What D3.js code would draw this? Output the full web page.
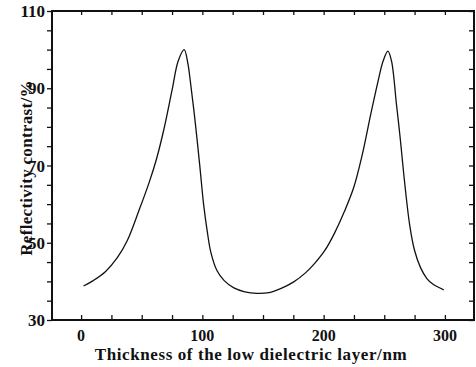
<!DOCTYPE html>
<html>
<head>
<meta charset="utf-8">
<script src="https://cdn.jsdelivr.net/npm/d3@7"></script>
<style>
  body { margin: 0; background: #fff; }
  svg { display: block; }
  .tickText { font-family: "Liberation Serif", serif; font-weight: bold; fill: #111; }
  .aText { font-family: "Liberation Serif", serif; font-weight: bold; font-size: 17px; fill: #111; }
</style>
</head>
<body>
<div id="chart"></div>
<script>
var svgWidth = 476;
var svgHeight = 367;

var margin = { top: 11, right: 2, bottom: 47, left: 52 };
var width = svgWidth - margin.left - margin.right;
var height = svgHeight - margin.top - margin.bottom;

// thickness (nm) and reflectivity contrast (%)
var thickness = [2, 10, 20, 30, 38, 48, 56, 62, 68, 75, 80, 85, 88, 90, 94, 98, 101, 104, 107, 112, 118,
                 126, 135, 145, 155, 165, 175, 185, 193, 201, 209, 217, 225, 232, 239, 245, 249, 253,
                 256, 260, 263, 266, 271, 275, 280, 285, 290, 299];
var contrast = [38.8, 40.2, 42.5, 46.2, 50.5, 58.6, 65.5, 71.5, 79, 89.5, 97, 100, 96.5, 92, 81.5, 69.5, 60, 53, 47.5, 42.8, 40.2,
                38.3, 37.3, 36.9, 37.1, 38.2, 39.8, 42.2, 44.8, 48, 52.5, 58, 64.5, 73, 83.5, 92, 97, 99.6,
                97, 86, 77.5, 68, 54.5, 48, 43.5, 40.8, 39.3, 37.8];

var xTickValues = [0, 100, 200, 300];
var yTickValues = [30, 50, 70, 90, 110];

var data = thickness.map(function(t, i) { return { t: t, v: contrast[i] }; });

var svg = d3.select("#chart")
  .append("svg")
  .attr("width", svgWidth)
  .attr("height", svgHeight);

var chartGroup = svg.append("g")
  .attr("transform", `translate(${margin.left}, ${margin.top})`);

var xScale = d3.scaleLinear().domain([-24, 324]).range([0, width]);
var yScale = d3.scaleLinear().domain([30, 110]).range([height, 0]);

var xMinor = d3.range(0, 325, 25);
var yMinor = d3.range(30, 111, 5);

// bottom axis: ticks inward
chartGroup.append("g")
  .attr("transform", `translate(0, ${height})`)
  .call(d3.axisBottom(xScale).tickValues(xMinor).tickSize(-5).tickFormat(""))
  .call(g => g.select(".domain").remove());

// top axis
chartGroup.append("g")
  .call(d3.axisTop(xScale).tickValues(xMinor).tickSize(-4).tickFormat(""))
  .call(g => g.select(".domain").remove());

// left axis: ticks outward
chartGroup.append("g")
  .call(d3.axisLeft(yScale).tickValues(yMinor).tickSize(5).tickFormat(""))
  .call(g => g.select(".domain").remove());

// right axis: ticks inward
chartGroup.append("g")
  .attr("transform", `translate(${width}, 0)`)
  .call(d3.axisRight(yScale).tickValues(yMinor).tickSize(-5).tickFormat(""))
  .call(g => g.select(".domain").remove());

chartGroup.selectAll(".tick line").attr("stroke", "#111").attr("stroke-width", 1.3);

// frame
chartGroup.append("rect")
  .attr("width", width)
  .attr("height", height)
  .attr("fill", "none")
  .attr("stroke", "#111")
  .attr("stroke-width", 2);

// tick labels
chartGroup.selectAll(".xLab")
  .data(xTickValues)
  .enter()
  .append("text")
  .attr("class", "tickText")
  .attr("font-size", 16)
  .attr("x", d => xScale(d))
  .attr("y", height + 21)
  .attr("text-anchor", "middle")
  .text(d => d);

chartGroup.selectAll(".yLab")
  .data(yTickValues)
  .enter()
  .append("text")
  .attr("class", "tickText")
  .attr("font-size", 17)
  .attr("x", -7)
  .attr("y", d => yScale(d) + 6)
  .attr("text-anchor", "end")
  .text(d => d);

// curve
var line = d3.line()
  .x(d => xScale(d.t))
  .y(d => yScale(d.v))
  .curve(d3.curveCatmullRom.alpha(0.5));

chartGroup.append("path")
  .datum(data)
  .attr("d", line)
  .attr("fill", "none")
  .attr("stroke", "#111")
  .attr("stroke-width", 1.3);

// axis labels
svg.append("text")
  .attr("class", "aText")
  .attr("x", 251)
  .attr("y", 360)
  .attr("text-anchor", "middle")
  .attr("letter-spacing", 0.6)
  .text("Thickness of the low dielectric layer/nm");

svg.append("text")
  .attr("class", "aText")
  .attr("transform", "translate(32, 168) rotate(-90)")
  .attr("text-anchor", "middle")
  .attr("letter-spacing", 0.3)
  .text("Reflectivity contrast/%");
</script>
</body>
</html>
